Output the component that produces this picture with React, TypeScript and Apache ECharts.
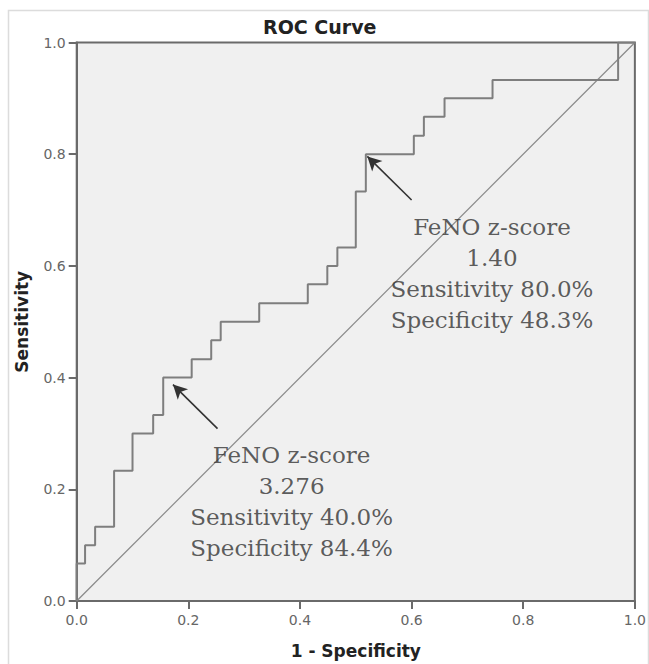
import React, { useEffect, useRef } from "react";
import * as echarts from "echarts";

// ROC curve vertices (1 - specificity, sensitivity)
const fpr = [0, 0, 0.015, 0.015, 0.033, 0.033, 0.067, 0.067, 0.1, 0.1, 0.137, 0.137, 0.155, 0.155, 0.206, 0.206, 0.241, 0.241, 0.258, 0.258, 0.327, 0.327, 0.414, 0.414, 0.449, 0.449, 0.467, 0.467, 0.5, 0.5, 0.518, 0.518, 0.604, 0.604, 0.622, 0.622, 0.659, 0.659, 0.745, 0.745, 0.97, 0.97, 1];
const tpr = [0, 0.067, 0.067, 0.1, 0.1, 0.133, 0.133, 0.233, 0.233, 0.3, 0.3, 0.333, 0.333, 0.4, 0.4, 0.433, 0.433, 0.467, 0.467, 0.5, 0.5, 0.533, 0.533, 0.567, 0.567, 0.6, 0.6, 0.633, 0.633, 0.733, 0.733, 0.8, 0.8, 0.833, 0.833, 0.867, 0.867, 0.9, 0.9, 0.933, 0.933, 1, 1];

const diagonal = [[0, 0], [1, 1]];

const xTicks = [0, 0.2, 0.4, 0.6, 0.8, 1.0];
const yTicks = [0, 0.2, 0.4, 0.6, 0.8, 1.0];

// Arrow annotations: tail -> tip, in data coordinates
const arrowTails = [[0.2523, 0.3086], [0.6, 0.718]];
const arrowTips = [[0.1725, 0.3875], [0.5207, 0.796]];

// Annotation text blocks (center position in data coords)
const annotationPos = [[0.385, 0.178], [0.744, 0.587]];
const annotationText = [
  ["FeNO z-score", "3.276", "Sensitivity 40.0%", "Specificity 84.4%"],
  ["FeNO z-score", "1.40", "Sensitivity 80.0%", "Specificity 48.3%"],
];

export default function App() {
  const ref = useRef<HTMLDivElement>(null);
  useEffect(() => {
    if (!ref.current) return;
    const chart = echarts.init(ref.current, null, { renderer: "svg" });
    const sans = "'DejaVu Sans', 'Open Sans', sans-serif";
    const serif = "'DejaVu Serif', 'Liberation Serif', serif";
    chart.setOption({
      animation: false,
      backgroundColor: "#ffffff",
      title: {
        text: "ROC Curve",
        left: 263,
        top: 17,
        padding: 0,
        textStyle: { fontFamily: sans, fontWeight: "bold", fontSize: 19, color: "#222" },
      },
      graphic: [
        {
          type: "rect",
          shape: { x: 8.5, y: 10.5, width: 640, height: 660 },
          style: { fill: "none", stroke: "#dcdcdc", lineWidth: 1.5 },
          silent: true,
        },
      ],
      grid: {
        left: 76.7,
        right: 12.3,
        top: 42.5,
        bottom: 62.4,
        show: true,
        backgroundColor: "#f0f0f0",
        borderColor: "#6a6a6a",
        borderWidth: 2,
      },
      xAxis: {
        type: "value",
        min: 0,
        max: 1,
        interval: 0.2,
        name: "1 - Specificity",
        nameLocation: "middle",
        nameGap: 41,
        nameTextStyle: { fontFamily: sans, fontWeight: "bold", fontSize: 17, color: "#222" },
        axisLine: { show: true, lineStyle: { color: "#6a6a6a", width: 2 } },
        axisTick: { show: true, inside: false, length: 8, lineStyle: { color: "#6a6a6a", width: 2 } },
        axisLabel: {
          margin: 12,
          fontFamily: sans,
          fontSize: 14,
          color: "#666",
          formatter: (v: number) => (xTicks.includes(Math.round(v * 10) / 10) ? v.toFixed(1) : ""),
        },
        splitLine: { show: false },
      },
      yAxis: {
        type: "value",
        min: 0,
        max: 1,
        interval: 0.2,
        name: "Sensitivity",
        nameLocation: "middle",
        nameGap: 46,
        nameTextStyle: { fontFamily: sans, fontWeight: "bold", fontSize: 17, color: "#222" },
        axisLine: { show: true, lineStyle: { color: "#6a6a6a", width: 2 } },
        axisTick: { show: true, inside: false, length: 8, lineStyle: { color: "#6a6a6a", width: 2 } },
        axisLabel: {
          margin: 11,
          fontFamily: sans,
          fontSize: 14,
          color: "#666",
          formatter: (v: number) => (yTicks.includes(Math.round(v * 10) / 10) ? v.toFixed(1) : ""),
        },
        splitLine: { show: false },
      },
      series: [
        {
          name: "Reference",
          type: "line",
          data: diagonal,
          showSymbol: false,
          symbol: "none",
          lineStyle: { color: "#8a8a8a", width: 1.2 },
          silent: true,
          z: 2,
        },
        {
          name: "ROC",
          type: "line",
          data: fpr.map((x, i) => [x, tpr[i]]),
          showSymbol: false,
          symbol: "none",
          lineStyle: { color: "#7e7e7e", width: 2 },
          silent: true,
          z: 3,
          markLine: {
            silent: true,
            symbol: ["none", "arrow"],
            symbolSize: [11, 14],
            label: { show: false },
            lineStyle: { color: "#333", width: 1.6, type: "solid" },
            data: arrowTails.map((t, i) => [{ coord: t }, { coord: arrowTips[i] }]),
          },
        },
        {
          name: "Annotations",
          type: "scatter",
          data: annotationPos,
          symbolSize: 0,
          silent: true,
          z: 4,
          label: {
            show: true,
            position: "inside",
            align: "center",
            verticalAlign: "middle",
            fontFamily: serif,
            fontSize: 23,
            lineHeight: 31,
            color: "#333",
            formatter: (p: any) => annotationText[p.dataIndex].join("\n"),
          },
        },
      ],
    });
    return () => chart.dispose();
  }, []);
  return (
    <div
      ref={ref}
      style={{ position: "fixed", left: 0, top: 0, width: 649, height: 664 }}
    />
  );
}
